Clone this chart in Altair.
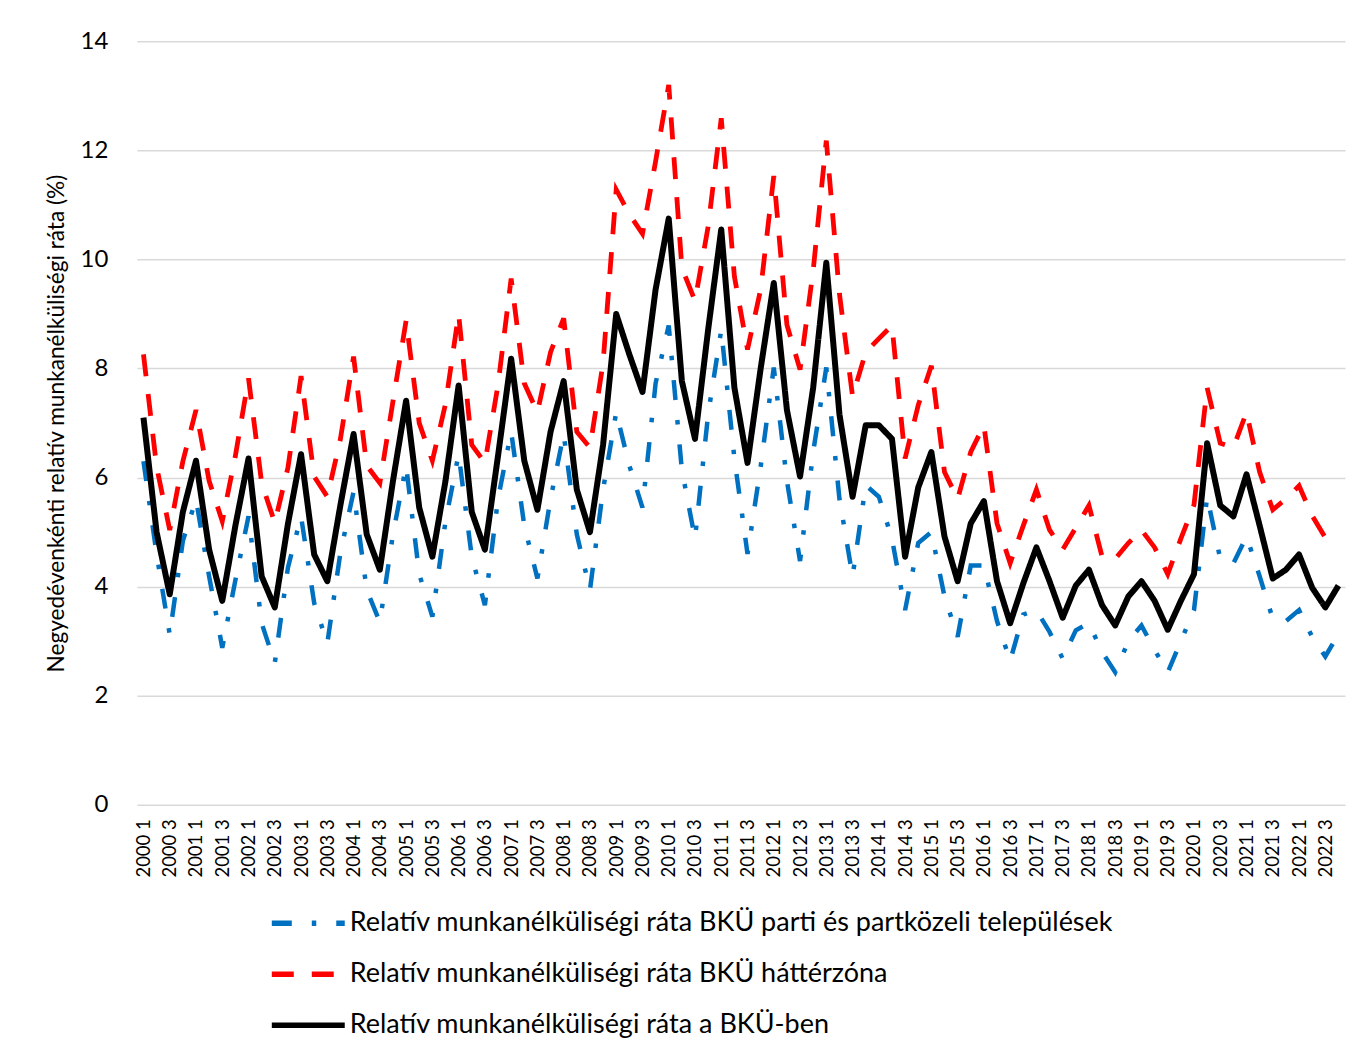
import altair as alt
import pandas as pd

years = list(range(2000, 2023))
quarters = [1, 2, 3, 4]
quarter_labels = [f"{y} {q}" for y in years for q in quarters]
tick_labels = [f"{y} {q}" for y in years for q in (1, 3)]

series_names = [
    "Relatív munkanélküliségi ráta BKÜ parti és partközeli települések",
    "Relatív munkanélküliségi ráta BKÜ háttérzóna",
    "Relatív munkanélküliségi ráta a BKÜ-ben",
]
series_colors = ["#0070C0", "#FF0000", "#000000"]

# parti és partközeli települések (blue, dash-dot)
parti = [
    6.30, 4.60, 3.12, 4.84,
    5.60, 4.19, 2.88, 4.12,
    5.29, 3.33, 2.60, 4.35,
    5.29, 3.70, 2.96, 4.63,
    5.74, 3.94, 3.35, 4.96,
    6.22, 4.23, 3.45, 5.20,
    6.43, 4.55, 3.66, 5.61,
    6.84, 5.12, 4.15, 5.61,
    6.80, 4.96, 3.94, 5.78,
    7.20, 6.22, 5.45, 7.73,
    8.79, 6.14, 4.88, 7.16,
    8.71, 6.35, 4.60, 6.20,
    8.02, 5.94, 4.47, 6.47,
    8.02, 5.61, 4.19, 5.86,
    5.65, 4.88, 3.57, 4.80,
    5.00, 3.82, 3.08, 4.39,
    4.39, 3.37, 2.64, 3.49,
    3.57, 3.17, 2.68, 3.20,
    3.33, 2.80, 2.43, 3.00,
    3.29, 2.84, 2.43, 3.00,
    3.57, 5.65, 4.51, 4.43,
    4.92, 4.19, 3.41, 3.37,
    3.57, 3.08, 2.72, 3.13,
]

# háttérzóna (red, dashed)
hatter = [
    8.26, 6.20, 5.04, 6.30,
    7.24, 5.94, 5.20, 6.40,
    7.82, 5.90, 5.17, 6.18,
    7.86, 6.02, 5.65, 6.71,
    8.22, 6.22, 5.90, 7.40,
    8.88, 7.00, 6.31, 7.35,
    9.00, 6.60, 6.27, 7.70,
    9.65, 7.73, 7.20, 8.30,
    8.92, 6.84, 6.55, 8.10,
    11.28, 10.83, 10.47, 11.80,
    13.20, 9.85, 9.24, 10.60,
    12.59, 9.69, 8.35, 9.45,
    11.53, 8.80, 7.98, 9.80,
    12.18, 9.37, 7.49, 8.30,
    8.55, 8.79, 6.35, 7.33,
    8.05, 6.10, 5.61, 6.47,
    6.96, 5.16, 4.43, 5.12,
    5.78, 5.04, 4.68, 5.08,
    5.49, 4.55, 4.51, 4.80,
    5.04, 4.72, 4.23, 4.88,
    5.50, 7.65, 6.63, 6.55,
    7.20, 6.10, 5.41, 5.61,
    5.85, 5.30, 4.90, 4.80,
]

# BKÜ összesen (black, solid)
bku = [
    7.10, 5.00, 3.86, 5.37,
    6.31, 4.68, 3.74, 5.12,
    6.35, 4.19, 3.62, 5.15,
    6.43, 4.59, 4.10, 5.50,
    6.80, 4.96, 4.31, 5.94,
    7.41, 5.45, 4.55, 5.94,
    7.69, 5.37, 4.68, 6.40,
    8.18, 6.31, 5.41, 6.84,
    7.77, 5.78, 5.00, 6.60,
    9.00, 8.26, 7.57, 9.45,
    10.75, 7.77, 6.71, 8.71,
    10.55, 7.65, 6.27, 8.00,
    9.57, 7.24, 6.02, 7.65,
    9.94, 7.16, 5.65, 6.96,
    6.96, 6.71, 4.55, 5.82,
    6.47, 4.92, 4.10, 5.16,
    5.57, 4.10, 3.33, 4.06,
    4.72, 4.10, 3.43, 4.02,
    4.31, 3.66, 3.29, 3.82,
    4.10, 3.74, 3.21, 3.74,
    4.23, 6.63, 5.49, 5.29,
    6.06, 5.12, 4.15, 4.31,
    4.59, 3.98, 3.62, 4.02,
]

rows = []
for name, vals in zip(series_names, [parti, hatter, bku]):
    for lab, v in zip(quarter_labels, vals):
        rows.append({"negyedev": lab, "sorozat": name, "ertek": v})
df = pd.DataFrame(rows)

FONT = "Lato"

color_scale = alt.Scale(domain=series_names, range=series_colors)
dash_scale = alt.Scale(domain=series_names, range=[[20, 20, 4.5, 20], [22, 18], [1, 0]])

legend = alt.Legend(
    title=None,
    orient="none",
    legendX=132,
    legendY=870.5,
    direction="vertical",
    symbolType="stroke",
    symbolSize=5329,
    symbolStrokeWidth=5.5,
    labelFont=FONT,
    labelFontSize=27,
    labelColor="black",
    labelOffset=2,
    labelLimit=1100,
    clipHeight=24,
    rowPadding=24,
)

base = alt.Chart(df).encode(
    x=alt.X(
        "negyedev:O",
        sort=quarter_labels,
        scale=alt.Scale(type="point", padding=0.5),
        axis=alt.Axis(
            title=None,
            values=tick_labels,
            labelAngle=270,
            labelFont=FONT,
            labelFontSize=18.5,
            labelColor="black",
            labelPadding=14,
            domain=False,
            ticks=False,
            grid=False,
        ),
    ),
    y=alt.Y(
        "ertek:Q",
        scale=alt.Scale(domain=[0, 14], nice=False),
        axis=alt.Axis(
            title="Negyedévenkénti relatív munkanélküliségi ráta (%)",
            values=list(range(0, 15, 2)),
            labelFont=FONT,
            labelFontSize=24,
            labelColor="black",
            labelPadding=29,
            tickSize=0,
            ticks=False,
            domain=False,
            titleFont=FONT,
            titleFontSize=22.7,
            titleFontWeight="normal",
            titleColor="black",
            titlePadding=12,
        ),
    ),
    color=alt.Color("sorozat:N", scale=color_scale, legend=legend),
    strokeDash=alt.StrokeDash("sorozat:N", scale=dash_scale, legend=legend),
)

blue = base.transform_filter(alt.datum.sorozat == series_names[0]).mark_line(strokeWidth=4.5)
red = base.transform_filter(alt.datum.sorozat == series_names[1]).mark_line(strokeWidth=4.8)
black = base.transform_filter(alt.datum.sorozat == series_names[2]).mark_line(strokeWidth=6, strokeJoin="round")

chart = (
    alt.layer(blue, red, black)
    .properties(
        width=1209,
        height=764,
        padding={"left": 129, "top": 33, "right": 10, "bottom": 241},
        autosize=alt.AutoSizeParams(type="none"),
        background="white",
    )
    .configure_view(stroke=None)
    .configure_axis(gridColor="#d9d9d9", gridWidth=1.5)
)

chart.save("out.html", embed_options={"renderer": "svg", "actions": False})
